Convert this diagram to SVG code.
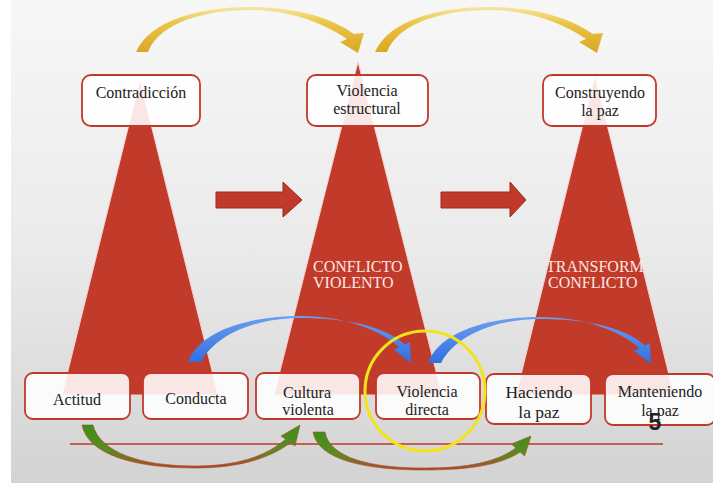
<svg xmlns="http://www.w3.org/2000/svg" width="713" height="483" viewBox="0 0 713 483">
<defs>
<linearGradient id="bg" x1="0" y1="0" x2="0" y2="1">
<stop offset="0" stop-color="#f7f7f7"/>
<stop offset="0.5" stop-color="#ebebeb"/>
<stop offset="1" stop-color="#d3d3d3"/>
</linearGradient>
<linearGradient id="gold" x1="0" y1="0" x2="0" y2="1">
<stop offset="0" stop-color="#f6e6a0"/>
<stop offset="0.35" stop-color="#eac546"/>
<stop offset="1" stop-color="#dca524"/>
</linearGradient>
<linearGradient id="blue" x1="0" y1="0" x2="0" y2="1">
<stop offset="0" stop-color="#6d9ff0"/>
<stop offset="1" stop-color="#2f6fe0"/>
</linearGradient>
<linearGradient id="green" x1="0" y1="0" x2="0" y2="1">
<stop offset="0" stop-color="#3f8f1a"/>
<stop offset="0.6" stop-color="#5a8a22"/>
<stop offset="1" stop-color="#b0472a"/>
</linearGradient>
<style>
.tri{fill:#c23a29;stroke:#f2d3cc;stroke-width:1}
.box{fill:#ffffff;fill-opacity:0.88;stroke:#c0392b;stroke-width:1.8}
.lbl{font-family:"Liberation Serif","Times New Roman",serif;font-size:16px;fill:#222;text-anchor:middle}
.big{font-size:17.5px}
.wl{font-family:"Liberation Serif","Times New Roman",serif;font-size:16px;fill:#fbe9e5}
.blk{fill:#c0392b;stroke:#9c2b1f;stroke-width:1}
</style>
</defs>
<rect x="0" y="0" width="713" height="483" fill="url(#bg)"/>
<rect x="0" y="0" width="11" height="483" fill="#ffffff"/>

<g id="triangles">
<polygon class="tri" points="140,80 218,395 62,395"/>
<polygon class="tri" points="358,62 442,395 274,395"/>
<polygon class="tri" points="595,76 674,395 516,395"/>
</g>

<g id="inner-labels">
<text class="wl" x="313" y="272">CONFLICTO</text>
<text class="wl" x="313" y="288">VIOLENTO</text>
<text class="wl" x="546" y="272">TRANSFORM</text>
<text class="wl" x="548" y="288">CONFLICTO</text>
</g>

<g id="connectors">
<line x1="70" y1="444" x2="663" y2="444" stroke="#c0392b" stroke-width="1.6"/>
<polygon class="blk" points="216,192 283,192 283,182 302,200 283,217 283,208 216,208"/>
<polygon class="blk" points="441,192 510,192 510,182 526,200 510,217 510,208 441,208"/>
<path fill="url(#gold)" d="M136,52 C150,20 200,7 250,7 C295,7 330,17 354,34 L364,33 L358,53 L340,42 L347,39 C325,24 292,10 250,10 C205,10 160,22 148,52 Z"/>
<path fill="url(#gold)" transform="translate(239,0)" d="M136,52 C150,20 200,7 250,7 C295,7 330,17 354,34 L364,33 L358,53 L340,42 L347,39 C325,24 292,10 250,10 C205,10 160,22 148,52 Z"/>
<path fill="url(#blue)" d="M188,362 C200,330 250,316 300,316 C345,316 380,330 399,347 L394,350 L411,363 L410,342 L405,344.6 C385,326 345,318 300,318 C255,318 215,335 201,362 Z"/>
<path fill="url(#blue)" transform="translate(240,1)" d="M188,362 C200,330 250,316 300,316 C345,316 380,330 399,347 L394,350 L411,363 L410,342 L405,344.6 C385,326 345,318 300,318 C255,318 215,335 201,362 Z"/>
<path fill="url(#green)" stroke="#b0482a" stroke-width="0.6" d="M82,425 C88,455 135,468 195,468 C240,468 270,458 290.4,442.8 L295,446 L300,425 L281,436 L285.6,439.2 C266,456 238,466 195,466 C140,466 100,452 93,425 Z"/>
<path fill="url(#green)" stroke="#b0482a" stroke-width="0.6" d="M313,432 C318,460 365,470 425,470 C470,470 500,465 520.2,452 L524.6,456.1 L531,436 L511.4,443.9 L515.8,448 C497,462 468,468 425,468 C370,468 330,458 325,432 Z"/>
</g>

<g id="contradiccion">
<rect class="box" x="82" y="75" width="118" height="51" rx="9"/>
<text class="lbl" x="141" y="98">Contradicción</text>
</g>
<g id="violencia-estructural">
<rect class="box" x="307" y="75" width="121" height="51" rx="9"/>
<text class="lbl" x="367" y="96">Violencia</text>
<text class="lbl" x="367" y="114">estructural</text>
</g>
<g id="construyendo-paz">
<rect class="box" x="543" y="75" width="113" height="51" rx="9"/>
<text class="lbl" x="600" y="98">Construyendo</text>
<text class="lbl" x="600" y="116">la paz</text>
</g>

<g id="actitud">
<rect class="box" x="25" y="373" width="105" height="46" rx="8"/>
<text class="lbl" x="77" y="405">Actitud</text>
</g>
<g id="conducta">
<rect class="box" x="143" y="373" width="105" height="46" rx="8"/>
<text class="lbl" x="196" y="404">Conducta</text>
</g>
<g id="cultura-violenta">
<rect class="box" x="256" y="373" width="104" height="46" rx="8"/>
<text class="lbl" x="307" y="398">Cultura</text>
<text class="lbl" x="308" y="415">violenta</text>
</g>
<g id="violencia-directa">
<rect class="box" x="376" y="373" width="104" height="46" rx="8"/>
<text class="lbl" x="427" y="397">Violencia</text>
<text class="lbl" x="427" y="415">directa</text>
</g>
<g id="haciendo-paz">
<rect class="box" x="486" y="374" width="105" height="50" rx="8"/>
<text class="lbl big" x="539" y="398">Haciendo</text>
<text class="lbl big" x="539" y="418">la paz</text>
</g>
<g id="manteniendo-paz">
<rect class="box" x="605" y="374" width="110" height="51" rx="8"/>
<text class="lbl" x="660" y="397">Manteniendo</text>
<text class="lbl" x="660" y="416">la paz</text>
</g>

<ellipse cx="425" cy="391" rx="60" ry="60" fill="none" stroke="#f2e41c" stroke-width="3"/>
<text x="655" y="430" font-family="'Liberation Sans Narrow','Liberation Sans',sans-serif" font-weight="bold" font-size="23" fill="#222" text-anchor="middle">5</text>
</svg>
